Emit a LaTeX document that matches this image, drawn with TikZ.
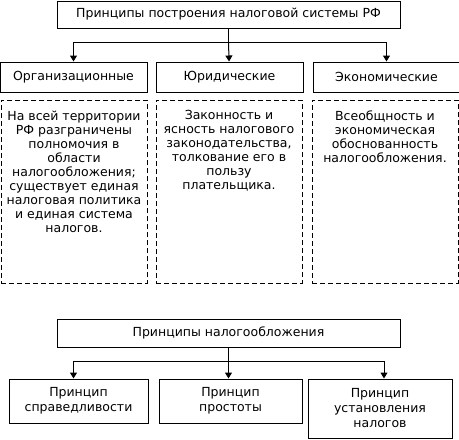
\documentclass[tikz,border=0pt]{standalone}
\usepackage{fontspec}
\setmainfont{DejaVu Sans}
\usetikzlibrary{arrows.meta,positioning}

\tikzset{
  box/.style={draw, line width=1pt, align=center, inner sep=0pt, font=\fontsize{12.5}{15}\selectfont},
  dbox/.style={draw, line width=1pt, dash pattern=on 5pt off 3pt, inner sep=0pt},
  note/.style={align=center, inner sep=0pt, font=\fontsize{12.5}{14}\selectfont},
  line/.style={line width=1pt},
  arr/.style={line width=1pt, -{Triangle[width=7pt,length=6pt]}}
}

\begin{document}
\begin{tikzpicture}[x=1pt,y=-1pt]
  \useasboundingbox (0,0) rectangle (459,440);

  % principles of the tax system
  \node[box, minimum width=343pt, minimum height=27pt] (principles) at (228.5,14.5) {Принципы построения налоговой системы РФ};
  \node[box, minimum width=147pt, minimum height=30pt] (org) at (73.5,77) {Организационные};
  \node[box, minimum width=147pt, minimum height=30pt, right=8pt of org] (jur) {Юридические};
  \node[box, minimum width=147pt, minimum height=30pt, right=9pt of jur] (eco) {Экономические};

  \coordinate (split) at (228.5,42);
  \draw[line] (principles) -- (split);
  \draw[arr] (split) -| (org);
  \draw[arr] (split) -- (jur);
  \draw[arr] (split) -| (eco);

  % dashed explanations
  \node[dbox, minimum width=146pt, minimum height=183pt] (orgbox) at (74,191.5) {};
  \node[dbox, minimum width=146pt, minimum height=183pt] (jurbox) at (229,191.5) {};
  \node[dbox, minimum width=146pt, minimum height=183pt] (ecobox) at (385,191.5) {};

  \node[note, below=11pt of orgbox.north] (orgtext) {На всей территории\\РФ разграничены\\полномочия в\\области\\налогообложения;\\существует единая\\налоговая политика\\и единая система\\налогов.};
  \node[note, below=11pt of jurbox.north] (jurtext) {Законность и\\ясность налогового\\законодательства,\\толкование его в\\пользу\\плательщика.};
  \node[note, below=11pt of ecobox.north] (ecotext) {Всеобщность и\\экономическая\\обоснованность\\налогообложения.};

  % principles of taxation
  \node[box, minimum width=343pt, minimum height=28pt] (taxation) at (228.5,333) {Принципы налогообложения};
  \node[box, minimum width=139pt, minimum height=44pt] (fair) at (78.5,401) {Принцип\\справедливости};
  \node[box, minimum width=143pt, minimum height=44pt] (simple) at (230.5,401) {Принцип\\простоты};
  \node[box, minimum width=144pt, minimum height=59pt] (establish) at (380,408.5) {Принцип\\установления\\налогов};

  \coordinate (tsplit) at (228.5,361);
  \coordinate (tleft) at (73.5,361);
  \coordinate (tright) at (384,361);
  \draw[line] (taxation) -- (tsplit);
  \draw[line] (tleft) -- (tright);
  \draw[arr] (tleft) -- (tleft |- fair.north);
  \draw[arr] (tsplit) -- (tsplit |- simple.north);
  \draw[arr] (tright) -- (tright |- establish.north);
\end{tikzpicture}
\end{document}
